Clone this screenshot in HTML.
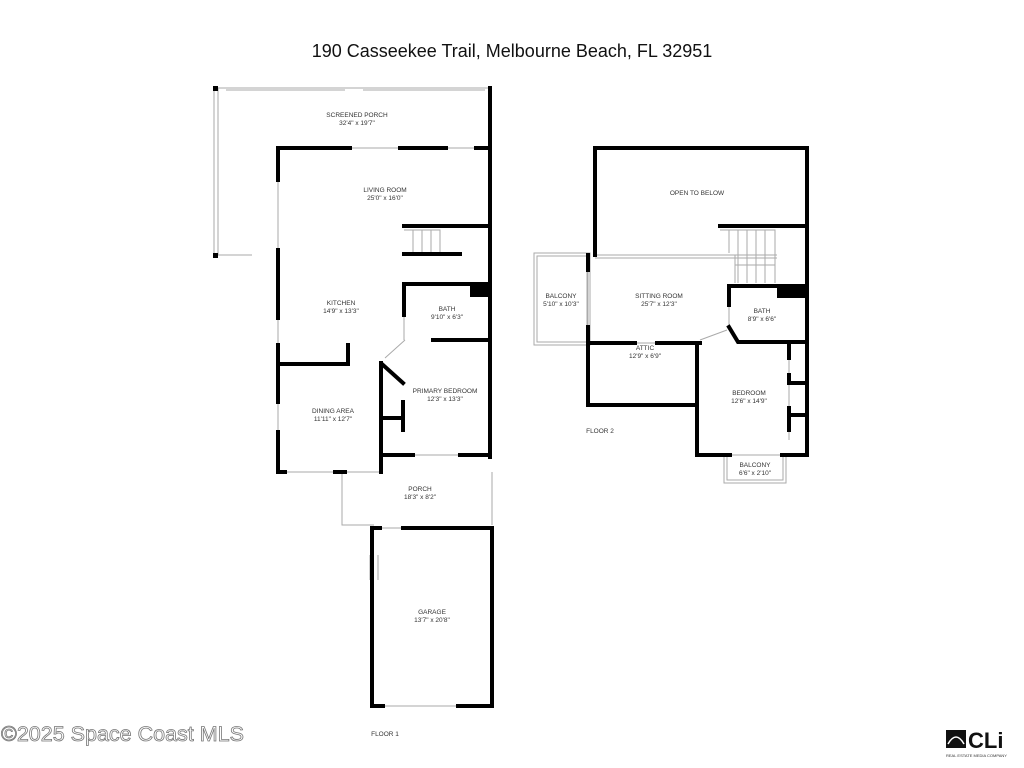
<!DOCTYPE html>
<html><head><meta charset="utf-8"><style>
html,body{margin:0;padding:0;background:#fff;}
svg{display:block;}
text{font-family:"Liberation Sans",sans-serif;fill:#333;}
.l{font-size:6.5px;text-anchor:middle;}
</style></head><body>
<svg width="1024" height="768" viewBox="0 0 1024 768" xmlns="http://www.w3.org/2000/svg">
<rect width="1024" height="768" fill="#fff"/>
<text x="512" y="57" font-size="18" text-anchor="middle" style="fill:#111">190 Casseekee Trail, Melbourne Beach, FL 32951</text>

<g fill="none" stroke="#aaa" stroke-width="1">
<path d="M216 88 H490 M218 88 V255 M214 88 V255 H252"/>
<path d="M226 90 H345 M363 90 H485"/>
<path d="M342 472 V525 H374 M492 472 V525"/>
<rect x="534" y="253" width="56" height="92"/>
<rect x="537" y="256" width="50" height="86"/>
<rect x="724" y="455" width="62" height="28"/>
<rect x="727" y="455" width="56" height="25"/>
<path d="M404 230 H440 V253 M413 230 V253 M422 230 V253 M431 230 V253"/>
<path d="M720 230 H775 V283 M729 230 V253 M738 230 V283 M747 230 V283 M756 230 V283 M765 230 V283 M735 265 H775 M735 255 V283"/>
<path d="M595 255 H777 M595 258 H777"/>
<path d="M350 148 H400 M446 148 H476 M278 180 V250 M278 318 V345 M278 402 V432 M285 472 H335 M413 455 H460 M380 528 H403 M383 706 H458 M588 270 V327 M370 555 V580 M378 555 V580 M635 343 H657 M789 358 V375 M789 385 V408 M789 430 V440 M405 340 L385 358 M700 340 L727 330 M404 315 V340 M729 305 V327 M345 472 H381"/>
</g>

<g fill="none" stroke="#000" stroke-width="4" stroke-linecap="square">
<path d="M490 88 V457"/>
<path d="M278 148 H350 M400 148 H446 M476 148 H490"/>
<path d="M278 148 V180 M278 250 V318 M278 345 V402 M278 432 V472 H285 M335 472 H345"/>
<path d="M404 226 H490 M404 254 H460"/>
<path d="M404 284 H490 M404 284 V315 M433 340 H490"/>
<path d="M278 364 H348 V345"/>
<path d="M381 363 V472 M383 365 L403 383 M381 418 H403 M403 402 V430 M381 455 H413 M460 455 H490"/>
<path d="M372 528 H380 M403 528 H492 V706 H458 M383 706 H372 V528"/>
<path d="M595 148 H807 V455 M595 148 V255"/>
<path d="M720 226 H807"/>
<path d="M588 255 V270 M588 327 V405 H697 M588 343 H635 M657 343 H700 M697 343 V455 H730 M782 455 H807"/>
<path d="M729 286 H807 M729 286 V305 M729 327 L738 342 H807"/>
<path d="M789 342 V358 M789 375 V383 H807 M789 408 V415 H807 M789 415 V430"/>
</g>
<rect x="470" y="284" width="20" height="13" fill="#000"/>
<rect x="777" y="286" width="30" height="12" fill="#000"/>
<rect x="213" y="253" width="5" height="5" fill="#000"/>
<rect x="213" y="86" width="5" height="5" fill="#000"/>

<text class="l" x="357" y="117">SCREENED PORCH</text><text class="l" x="357" y="125">32'4" x 19'7"</text>
<text class="l" x="385" y="192">LIVING ROOM</text><text class="l" x="385" y="200">25'0" x 16'0"</text>
<text class="l" x="341" y="305">KITCHEN</text><text class="l" x="341" y="313">14'9" x 13'3"</text>
<text class="l" x="447" y="311">BATH</text><text class="l" x="447" y="319">9'10" x 6'3"</text>
<text class="l" x="445" y="393">PRIMARY BEDROOM</text><text class="l" x="445" y="401">12'3" x 13'3"</text>
<text class="l" x="333" y="413">DINING AREA</text><text class="l" x="333" y="421">11'11" x 12'7"</text>
<text class="l" x="420" y="491">PORCH</text><text class="l" x="420" y="499">18'3" x 8'2"</text>
<text class="l" x="432" y="614">GARAGE</text><text class="l" x="432" y="622">13'7" x 20'8"</text>
<text class="l" x="697" y="195">OPEN TO BELOW</text>
<text class="l" x="561" y="298">BALCONY</text><text class="l" x="561" y="306">5'10" x 10'3"</text>
<text class="l" x="659" y="298">SITTING ROOM</text><text class="l" x="659" y="306">25'7" x 12'3"</text>
<text class="l" x="762" y="313">BATH</text><text class="l" x="762" y="321">8'9" x 6'6"</text>
<text class="l" x="645" y="350">ATTIC</text><text class="l" x="645" y="358">12'9" x 6'9"</text>
<text class="l" x="749" y="395">BEDROOM</text><text class="l" x="749" y="403">12'6" x 14'9"</text>
<text class="l" x="755" y="467">BALCONY</text><text class="l" x="755" y="475">6'6" x 2'10"</text>
<text class="l" x="600" y="433">FLOOR 2</text>
<text class="l" x="385" y="736">FLOOR 1</text>

<text x="1" y="741" font-size="21.5" stroke="#777" stroke-width="0.8" style="fill:#fff">©2025 Space Coast MLS</text>

<path d="M946 730 H966 V748 H946 Z" fill="#111"/>
<path d="M948 744 Q956 730 964 744" fill="none" stroke="#fff" stroke-width="1.5"/>
<text x="968" y="748" font-size="22" font-weight="bold" style="fill:#111">CLi</text>
<text x="946" y="757" font-size="4" style="fill:#333">REAL ESTATE MEDIA COMPANY</text>
</svg>
</body></html>
